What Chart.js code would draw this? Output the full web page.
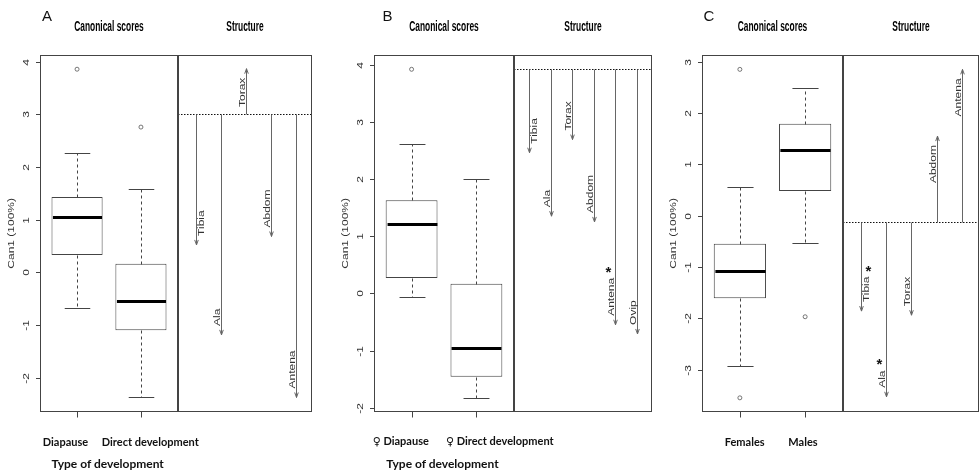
<!DOCTYPE html>
<html>
<head>
<meta charset="utf-8">
<script src="https://cdn.jsdelivr.net/npm/chart.js@4.4.1/dist/chart.umd.min.js"></script>
<style>
  body { margin: 0; background: #fff; }
  #wrap { position: relative; width: 980px; height: 473px; overflow: hidden; }
  canvas { position: absolute; left: 0; top: 0; }
  .txt { position: absolute; transform: translate(-50%, -50%); white-space: nowrap; color: #111; }
  .cat { font: bold 11px Lato, "DejaVu Sans", sans-serif; }
  .tod { font: bold 12px Lato, "DejaVu Sans", sans-serif; }
  .letter { font: 15px "Liberation Sans", Arial, sans-serif; }
</style>
</head>
<body>
<div id="wrap">
  <canvas id="boxA" width="980" height="473"></canvas>
  <canvas id="strA" width="980" height="473"></canvas>
  <canvas id="boxB" width="980" height="473"></canvas>
  <canvas id="strB" width="980" height="473"></canvas>
  <canvas id="boxC" width="980" height="473"></canvas>
  <canvas id="strC" width="980" height="473"></canvas>
</div>
<script>
// ---- panel A: type of development
const catsA = ['Diapause', 'Direct development'];
const lowA = [-0.68, -2.38];
const q1A = [0.33, -1.10];
const medA = [1.05, -0.55];
const q3A = [1.43, 0.16];
const highA = [2.26, 1.58];
const outA = [[3.86], [2.76]];
const ticksA = [-2, -1, 0, 1, 2, 3, 4];
const varsA = ['Tibia', 'Ala', 'Torax', 'Abdom', 'Antena'];
const tipsA = [0.52, -1.19, 3.87, 0.68, -2.38];
const baseA = 3.0;
const starsA = [];

// ---- panel B: females, type of development
const catsB = ['\u2640 Diapause', '\u2640 Direct development'];
const lowB = [-0.06, -1.83];
const q1B = [0.27, -1.46];
const medB = [1.22, -0.95];
const q3B = [1.63, 0.17];
const highB = [2.61, 2.0];
const outB = [[3.92], []];
const ticksB = [-2, -1, 0, 1, 2, 3, 4];
const varsB = ['Tibia', 'Ala', 'Torax', 'Abdom', 'Antena', 'Ovip'];
const tipsB = [2.46, 1.35, 2.69, 1.25, -0.55, -0.71];
const baseB = 3.92;
const starsB = ['Antena'];

// ---- panel C: sex
const catsC = ['Females', 'Males'];
const lowC = [-2.92, -0.53];
const q1C = [-1.61, 0.48];
const medC = [-1.08, 1.27];
const q3C = [-0.55, 1.79];
const highC = [0.55, 2.48];
const outC = [[2.85, -3.55], [-1.97]];
const ticksC = [-3, -2, -1, 0, 1, 2, 3];
const varsC = ['Tibia', 'Ala', 'Torax', 'Abdom', 'Antena'];
const tipsC = [-1.86, -3.53, -1.94, 1.55, 2.85];
const baseC = -0.13;
const starsC = ['Tibia', 'Ala'];

const FONT = '"Liberation Sans", Arial, sans-serif';
const SQ = 0.75; // R text is squeezed sideways in the original

function vText(ctx, str, x, y, align) {
  ctx.save();
  ctx.translate(x, y);
  ctx.scale(SQ, 1);
  ctx.rotate(-Math.PI / 2);
  ctx.textAlign = align;
  ctx.textBaseline = 'middle';
  ctx.fillText(str, 0, 0);
  ctx.restore();
}

function seg(ctx, x1, y1, x2, y2) {
  ctx.beginPath();
  ctx.moveTo(x1, y1);
  ctx.lineTo(x2, y2);
  ctx.stroke();
}

// frame, title and the R style axes
const rPlot = {
  id: 'rPlot',
  afterDraw(chart, args, o) {
    const {ctx, chartArea: a, scales: {x, y}} = chart;
    ctx.save();
    ctx.strokeStyle = '#444';
    ctx.lineWidth = 1;
    const l = Math.round(a.left) + 0.5, r = Math.round(a.right) - 0.5;
    const t = Math.round(a.top) + 0.5, b = Math.round(a.bottom) - 0.5;
    ctx.strokeRect(l, t, r - l, b - t);

    ctx.fillStyle = '#000';
    ctx.font = 'bold 14px ' + FONT;
    ctx.textAlign = 'center';
    ctx.textBaseline = 'middle';
    const w = ctx.measureText(o.title).width;
    ctx.fillText(o.title, (a.left + a.right) / 2, 27, w * 0.6);

    if (o.yTitle) {
      ctx.fillStyle = '#333';
      ctx.font = '12px ' + FONT;
      y.ticks.forEach(tk => {
        const py = Math.round(y.getPixelForValue(tk.value)) + 0.5;
        seg(ctx, l - 4.5, py, l, py);
        vText(ctx, String(tk.value), l - 14, py, 'center');
      });
      vText(ctx, o.yTitle, l - 29, (a.top + a.bottom) / 2, 'center');
      x.ticks.forEach(tk => {
        const px = Math.round(x.getPixelForValue(tk.value)) + 0.5;
        seg(ctx, px, b, px, b + 6);
      });
    }
    ctx.restore();
  }
};

// whiskers, caps and medians of the box plots
const boxParts = {
  id: 'boxParts',
  afterDatasetsDraw(chart) {
    const {ctx, scales: {x, y}} = chart;
    ctx.save();
    chart.data.datasets[0].data.forEach(d => {
      const cx = Math.round(x.getPixelForValue(d.x)) + 0.5;
      const half = x.getPixelForValue(d.x + 0.4) - x.getPixelForValue(d.x);
      const py = v => Math.round(y.getPixelForValue(v)) + 0.5;
      ctx.lineWidth = 1;
      ctx.strokeStyle = '#444';
      ctx.setLineDash([3, 3]);
      seg(ctx, cx, py(d.y[1]), cx, py(d.high));
      seg(ctx, cx, py(d.y[0]), cx, py(d.low));
      ctx.setLineDash([]);
      seg(ctx, cx - half / 2, py(d.high), cx + half / 2, py(d.high));
      seg(ctx, cx - half / 2, py(d.low), cx + half / 2, py(d.low));
      ctx.strokeStyle = '#000';
      ctx.lineWidth = 3;
      seg(ctx, cx - half + 1, py(d.med), cx + half - 1, py(d.med));
    });
    ctx.restore();
  }
};

// structure coefficients drawn as arrows off a dotted base line
const arrows = {
  id: 'arrows',
  afterDatasetsDraw(chart, args, o) {
    const {ctx, chartArea: a, scales: {x, y}} = chart;
    const y0 = Math.round(y.getPixelForValue(o.base)) + 0.5;
    ctx.save();
    ctx.strokeStyle = '#111';
    ctx.lineWidth = 1.2;
    ctx.setLineDash([1.5, 1.5]);
    seg(ctx, a.left, y0, a.right, y0);
    ctx.setLineDash([]);
    ctx.lineWidth = 1;
    chart.data.datasets[0].data.forEach(d => {
      const px = Math.round(x.getPixelForValue(d.x)) + 0.5;
      const py = y.getPixelForValue(d.y);
      const dir = py > y0 ? 1 : -1;
      ctx.strokeStyle = '#666';
      seg(ctx, px, y0, px, py);
      seg(ctx, px, py, px - 1.8, py - dir * 5);
      seg(ctx, px, py, px + 1.8, py - dir * 5);

      const right = o.rightLabels.includes(d.name);
      const lx = px + (right ? 5 : -4);
      const ly = py - dir * 9;
      ctx.fillStyle = '#333';
      ctx.font = '12px ' + FONT;
      vText(ctx, d.name, lx, ly, dir > 0 ? 'left' : 'right');
      if (o.stars.includes(d.name)) {
        const len = ctx.measureText(d.name).width;
        const end = dir > 0 ? ly - len : ly + len;
        ctx.font = 'bold 15px ' + FONT;
        ctx.fillStyle = '#111';
        ctx.textAlign = 'center';
        ctx.textBaseline = 'alphabetic';
        const m = ctx.measureText('*');
        const sy = end - dir * 8 + (m.actualBoundingBoxAscent - m.actualBoundingBoxDescent) / 2;
        ctx.fillText('*', lx + (right ? 2 : -3), sy);
      }
    });
    ctx.restore();
  }
};

function pad(left, right) {
  return {left: left, right: 980 - right, top: 55, bottom: 473 - 411.7};
}

function boxChart(id, p) {
  const outliers = [];
  p.out.forEach((vals, i) => vals.forEach(v => outliers.push({x: i + 1, y: v})));
  return new Chart(document.getElementById(id), {
    type: 'bar',
    data: {
      datasets: [{
        data: p.cats.map((c, i) => ({
          x: i + 1, y: [p.q1[i], p.q3[i]], low: p.low[i], med: p.med[i], high: p.high[i]
        })),
        backgroundColor: '#fff',
        borderColor: '#444',
        borderWidth: 1,
        borderSkipped: false,
        barPercentage: 1,
        categoryPercentage: 0.8
      }, {
        type: 'scatter',
        data: outliers,
        pointStyle: 'circle',
        pointRadius: 2,
        borderColor: '#555',
        borderWidth: 0.8,
        backgroundColor: 'rgba(0,0,0,0)'
      }]
    },
    options: {
      responsive: false,
      animation: false,
      events: [],
      layout: {padding: pad(p.left, p.right)},
      plugins: {
        legend: {display: false},
        tooltip: {enabled: false},
        rPlot: {title: 'Canonical scores', yTitle: 'Can1 (100%)'}
      },
      scales: {
        x: {
          type: 'linear', display: false, offset: false, min: 0.42, max: 2.58,
          afterBuildTicks: s => { s.ticks = p.cats.map((c, i) => ({value: i + 1})); }
        },
        y: {
          type: 'linear', display: false, beginAtZero: false, min: p.min, max: p.max,
          afterBuildTicks: s => { s.ticks = p.ticks.map(v => ({value: v})); }
        }
      }
    },
    plugins: [rPlot, boxParts]
  });
}

function structChart(id, p) {
  return new Chart(document.getElementById(id), {
    type: 'scatter',
    data: {
      datasets: [{
        data: p.vars.map((v, i) => ({x: i + 1, y: p.tips[i], name: v})),
        pointRadius: 0
      }]
    },
    options: {
      responsive: false,
      animation: false,
      events: [],
      layout: {padding: pad(p.left, p.right)},
      plugins: {
        legend: {display: false},
        tooltip: {enabled: false},
        rPlot: {title: 'Structure'},
        arrows: {base: p.base, stars: p.stars, rightLabels: ['Tibia']}
      },
      scales: {
        x: {type: 'linear', display: false, min: p.xmin, max: p.xmax},
        y: {type: 'linear', display: false, min: p.min, max: p.max}
      }
    },
    plugins: [rPlot, arrows]
  });
}

boxChart('boxA', {cats: catsA, low: lowA, q1: q1A, med: medA, q3: q3A, high: highA, out: outA,
  ticks: ticksA, min: -2.65, max: 4.13, left: 40, right: 178});
structChart('strA', {vars: varsA, tips: tipsA, base: baseA, stars: starsA,
  min: -2.65, max: 4.13, xmin: 0.285, xmax: 5.66, left: 178, right: 312});

boxChart('boxB', {cats: catsB, low: lowB, q1: q1B, med: medB, q3: q3B, high: highB, out: outB,
  ticks: ticksB, min: -2.07, max: 4.17, left: 374, right: 514});
structChart('strB', {vars: varsB, tips: tipsB, base: baseB, stars: starsB,
  min: -2.07, max: 4.17, xmin: 0.295, xmax: 6.70, left: 514, right: 652});

boxChart('boxC', {cats: catsC, low: lowC, q1: q1C, med: medC, q3: q3C, high: highC, out: outC,
  ticks: ticksC, min: -3.82, max: 3.13, left: 702, right: 843});
structChart('strC', {vars: varsC, tips: tipsC, base: baseC, stars: starsC,
  min: -3.82, max: 3.13, xmin: 0.31, xmax: 5.66, left: 843, right: 979});

// labels typed under the plots
const wrap = document.getElementById('wrap');
function addText(cls, str, x, y) {
  const d = document.createElement('div');
  d.className = 'txt ' + cls;
  d.textContent = str;
  d.style.left = x + 'px';
  d.style.top = y + 'px';
  wrap.appendChild(d);
}
[
  {letter: 'A', lx: 47, cats: catsA, xs: [65.5, 150.3], tod: 107.7},
  {letter: 'B', lx: 387.5, cats: catsB, xs: [400.8, 499.8], tod: 442.5},
  {letter: 'C', lx: 709, cats: catsC, xs: [744.7, 803], tod: null}
].forEach(g => {
  addText('letter', g.letter, g.lx, 15);
  g.cats.forEach((c, i) => addText('cat', c, g.xs[i], 441));
  if (g.tod) addText('tod', 'Type of development', g.tod, 462.7);
});
</script>
</body>
</html>
